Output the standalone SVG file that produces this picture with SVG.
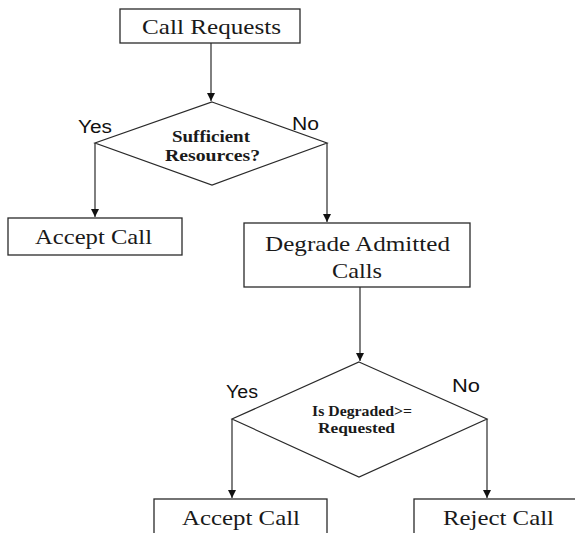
<svg xmlns="http://www.w3.org/2000/svg" width="575" height="533" viewBox="0 0 575 533">
<style>
.box{fill:#fff;stroke:#2a2a2a;stroke-width:1.3}
.dia{fill:#fff;stroke:#2a2a2a;stroke-width:1.2}
.t{font-family:"Liberation Serif",serif;font-size:21px;fill:#1a1a1a;text-anchor:middle}
.q{font-family:"Liberation Serif",serif;font-weight:bold;fill:#1a1a1a;text-anchor:middle}
.lbl{font-family:"Liberation Sans",sans-serif;font-size:18px;fill:#111}
.c{stroke:#2a2a2a;stroke-width:1.2;fill:none;marker-end:url(#ah)}
</style>
<defs>
<marker id="ah" markerWidth="10" markerHeight="10" refX="8" refY="4" orient="auto" markerUnits="userSpaceOnUse">
<path d="M0,0 L8,4 L0,8 Z" fill="#111"/>
</marker>
</defs>
<rect width="575" height="533" fill="#fff"/>
<g id="connectors">
<line class="c" x1="211" y1="43" x2="211" y2="101"/>
<line class="c" x1="95" y1="143" x2="95" y2="217"/>
<line class="c" x1="327" y1="143" x2="327" y2="222"/>
<line class="c" x1="360" y1="287" x2="360" y2="361"/>
<line class="c" x1="232" y1="419" x2="232" y2="498"/>
<line class="c" x1="487" y1="419" x2="487" y2="498"/>
</g>
<g id="call-requests">
<rect class="box" x="120" y="9" width="180" height="34"/>
<text class="t" x="211.5" y="34" textLength="139" lengthAdjust="spacingAndGlyphs">Call Requests</text>
</g>
<g id="sufficient">
<polygon class="dia" points="212,102 327,143 212,185 95,143"/>
<text class="q" font-size="17" x="211" y="142" textLength="78" lengthAdjust="spacingAndGlyphs">Sufficient</text>
<text class="q" font-size="17" x="212.5" y="161" textLength="95" lengthAdjust="spacingAndGlyphs">Resources?</text>
</g>
<text class="lbl" x="78" y="133" textLength="34" lengthAdjust="spacingAndGlyphs">Yes</text>
<text class="lbl" x="292" y="130" textLength="27" lengthAdjust="spacingAndGlyphs">No</text>
<g id="accept-1">
<rect class="box" x="8" y="218" width="174" height="37"/>
<text class="t" x="93.5" y="244" textLength="117" lengthAdjust="spacingAndGlyphs">Accept Call</text>
</g>
<g id="degrade">
<rect class="box" x="244" y="223" width="226" height="64"/>
<text class="t" x="357.5" y="251" textLength="185" lengthAdjust="spacingAndGlyphs">Degrade Admitted</text>
<text class="t" x="357" y="278" textLength="50" lengthAdjust="spacingAndGlyphs">Calls</text>
</g>
<g id="degraded-check">
<polygon class="dia" points="359,362 487,419 359,477 232,419"/>
<text class="q" font-size="14" x="362" y="416" textLength="100" lengthAdjust="spacingAndGlyphs">Is Degraded&gt;=</text>
<text class="q" font-size="14" x="356.5" y="433" textLength="77" lengthAdjust="spacingAndGlyphs">Requested</text>
</g>
<text class="lbl" x="226" y="398" textLength="32" lengthAdjust="spacingAndGlyphs">Yes</text>
<text class="lbl" x="452" y="392" textLength="28" lengthAdjust="spacingAndGlyphs">No</text>
<g id="accept-2">
<rect class="box" x="154" y="499" width="173" height="45"/>
<text class="t" x="241" y="525" textLength="118" lengthAdjust="spacingAndGlyphs">Accept Call</text>
</g>
<g id="reject">
<rect class="box" x="414" y="499" width="180" height="45"/>
<text class="t" x="498.5" y="525" textLength="111" lengthAdjust="spacingAndGlyphs">Reject Call</text>
</g>
</svg>
